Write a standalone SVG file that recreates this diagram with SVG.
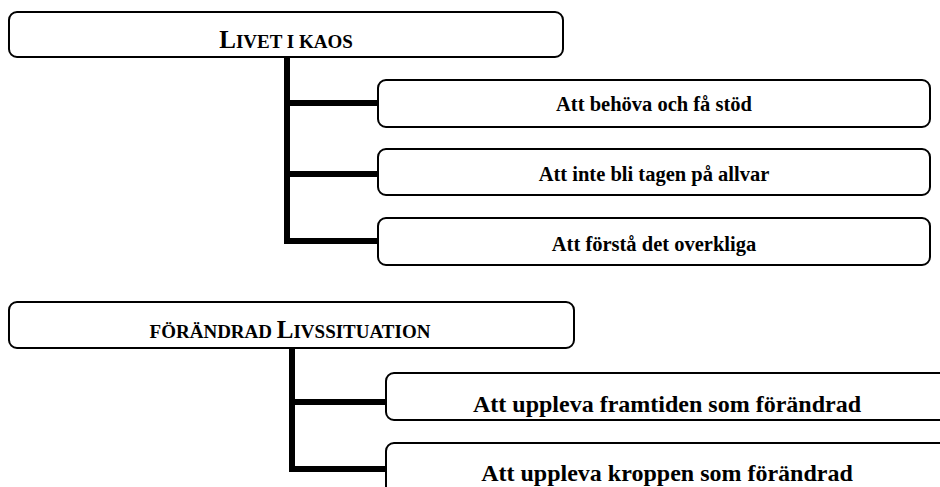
<svg xmlns="http://www.w3.org/2000/svg" width="940" height="487" viewBox="0 0 940 487">
<style>
.box{fill:#fff;stroke:#000;stroke-width:2}
.t{font-family:'Liberation Serif','Times New Roman',serif;font-weight:bold;fill:#000;text-anchor:middle}
.s{font-size:20.5px}
.b{font-size:24px}
.cap{font-size:25px}
.sc{font-size:19px}
.conn{fill:none;stroke:#000;stroke-width:6;stroke-linejoin:miter}
</style>
<rect width="940" height="487" fill="#fff"/>
<g id="connectors">
<path class="conn" d="M287 57 V241 H378 M287 103 H378 M287 174 H378"/>
<path class="conn" d="M292 348 V469 H386 M292 402 H386"/>
</g>
<g id="n1">
<rect class="box" x="9" y="12" width="554" height="45" rx="8"/>
<text class="t" x="286" y="48"><tspan class="cap">L</tspan><tspan class="sc">IVET I KAOS</tspan></text>
</g>
<g id="n2">
<rect class="box" x="378" y="80" width="552" height="47" rx="8"/>
<text class="t s" x="654" y="111">Att behöva och få stöd</text>
</g>
<g id="n3">
<rect class="box" x="378" y="149" width="552" height="46" rx="8"/>
<text class="t s" x="654" y="181">Att inte bli tagen på allvar</text>
</g>
<g id="n4">
<rect class="box" x="378" y="218" width="552" height="47" rx="8"/>
<text class="t s" x="654" y="251">Att förstå det overkliga</text>
</g>
<g id="n5">
<rect class="box" x="9" y="302" width="565" height="46" rx="8"/>
<text class="t" x="290" y="338"><tspan class="sc">FÖRÄNDRAD </tspan><tspan class="cap">L</tspan><tspan class="sc">IVSSITUATION</tspan></text>
</g>
<g id="n6">
<rect class="box" x="386" y="373" width="570" height="47" rx="8"/>
<text class="t b" x="667" y="412">Att uppleva framtiden som förändrad</text>
</g>
<g id="n7">
<rect class="box" x="386" y="443" width="570" height="60" rx="8"/>
<text class="t b" x="667" y="481">Att uppleva kroppen som förändrad</text>
</g>
</svg>
